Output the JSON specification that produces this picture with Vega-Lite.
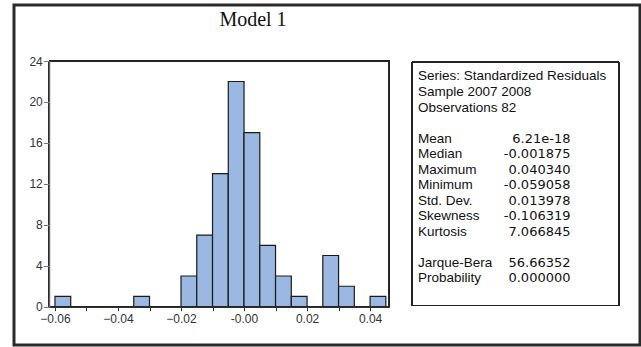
{
  "$schema": "https://vega.github.io/schema/vega-lite/v6.json",
  "autosize": "none",
  "width": 626,
  "height": 340,
  "padding": {"left": 14, "top": 5, "right": 1, "bottom": 2},
  "background": "white",
  "config": {
    "view": {"stroke": "#2a2a2a", "strokeWidth": 3},
    "text": {"font": "Liberation Sans"}
  },
  "title": {
    "text": "Model 1",
    "font": "Liberation Serif",
    "fontSize": 20,
    "fontWeight": "normal",
    "color": "#111",
    "anchor": "middle",
    "frame": "group",
    "offset": -25,
    "dx": -74
  },
  "datasets": {
    "bins": [
      {"bin_start": -0.060, "bin_end": -0.055, "count": 1},
      {"bin_start": -0.035, "bin_end": -0.030, "count": 1},
      {"bin_start": -0.020, "bin_end": -0.015, "count": 3},
      {"bin_start": -0.015, "bin_end": -0.010, "count": 7},
      {"bin_start": -0.010, "bin_end": -0.005, "count": 13},
      {"bin_start": -0.005, "bin_end": 0.000, "count": 22},
      {"bin_start": 0.000, "bin_end": 0.005, "count": 17},
      {"bin_start": 0.005, "bin_end": 0.010, "count": 6},
      {"bin_start": 0.010, "bin_end": 0.015, "count": 3},
      {"bin_start": 0.015, "bin_end": 0.020, "count": 1},
      {"bin_start": 0.025, "bin_end": 0.030, "count": 5},
      {"bin_start": 0.030, "bin_end": 0.035, "count": 2},
      {"bin_start": 0.040, "bin_end": 0.045, "count": 1}
    ],
    "stats": [
      {"line": 0, "label": "Series: Standardized Residuals", "value": ""},
      {"line": 1, "label": "Sample 2007 2008", "value": ""},
      {"line": 2, "label": "Observations 82", "value": ""},
      {"line": 4, "label": "Mean", "value": "6.21e-18"},
      {"line": 5, "label": "Median", "value": "-0.001875"},
      {"line": 6, "label": "Maximum", "value": "0.040340"},
      {"line": 7, "label": "Minimum", "value": "-0.059058"},
      {"line": 8, "label": "Std. Dev.", "value": "0.013978"},
      {"line": 9, "label": "Skewness", "value": "-0.106319"},
      {"line": 10, "label": "Kurtosis", "value": "7.066845"},
      {"line": 12, "label": "Jarque-Bera", "value": "56.66352"},
      {"line": 13, "label": "Probability", "value": "0.000000"}
    ]
  },
  "layer": [
    {
      "data": {"name": "bins"},
      "layer": [
        {
          "mark": {"type": "rect", "fill": "#9bb8e2", "stroke": "#1a1a1a", "strokeWidth": 1.2},
          "encoding": {
            "x": {
              "field": "bin_start",
              "type": "quantitative",
              "scale": {"domain": [-0.0618, 0.0461], "range": [35.3, 375.3], "nice": false, "zero": false},
              "axis": {
                "orient": "bottom",
                "offset": -38.3,
                "zindex": 1,
                "values": [-0.06, -0.055, -0.05, -0.045, -0.04, -0.035, -0.03, -0.025, -0.02, -0.015, -0.01, -0.005, 0, 0.005, 0.01, 0.015, 0.02, 0.025, 0.03, 0.035, 0.04, 0.045],
                "labelExpr": "round(datum.value*1000) % 20 == 0 ? (abs(datum.value) < 1e-9 ? '-0.00' : format(datum.value, '.2f')) : ''",
                "tickSize": 4,
                "labelPadding": 3,
                "domainColor": "#333",
                "tickColor": "#333",
                "labelColor": "#333",
                "labelFont": "Liberation Sans",
                "labelFontSize": 12,
                "labelOverlap": false,
                "labelFlush": false,
                "grid": false,
                "title": null
              }
            },
            "x2": {"field": "bin_end"},
            "y": {
              "field": "count",
              "type": "quantitative",
              "scale": {"domain": [0, 24], "range": [301.7, 56], "nice": false},
              "axis": {
                "orient": "left",
                "offset": -35.3,
                "zindex": 1,
                "values": [0, 4, 8, 12, 16, 20, 24],
                "tickSize": 6,
                "labelPadding": 1,
                "domainColor": "#888",
                "tickColor": "#777",
                "labelColor": "#333",
                "labelFont": "Liberation Sans",
                "labelFontSize": 12,
                "grid": false,
                "title": null
              }
            },
            "y2": {"datum": 0}
          }
        },
        {
          "mark": {"type": "rect", "fill": null, "stroke": "#222", "strokeWidth": 1},
          "encoding": {
            "x": {"datum": -0.0618, "type": "quantitative"},
            "x2": {"datum": 0.0461},
            "y": {"datum": 24, "type": "quantitative"},
            "y2": {"datum": 0}
          }
        }
      ]
    },
    {
      "data": {"name": "stats"},
      "layer": [
        {
          "mark": {"type": "rect", "fill": null, "stroke": "#222", "strokeWidth": 1},
          "encoding": {
            "x": {"datum": 0, "type": "quantitative", "scale": {"domain": [0, 207], "range": [398, 605], "nice": false, "zero": false}, "axis": null},
            "x2": {"datum": 207},
            "y": {"datum": -0.935, "type": "quantitative", "scale": {"domain": [-0.935, 14.77], "range": [57, 300.5], "nice": false, "zero": false}, "axis": null},
            "y2": {"datum": 14.77}
          }
        },
        {
          "mark": {"type": "text", "align": "left", "baseline": "middle", "fontSize": 13.5, "color": "#111"},
          "encoding": {
            "x": {"datum": 6, "type": "quantitative"},
            "y": {"field": "line", "type": "quantitative"},
            "text": {"field": "label"}
          }
        },
        {
          "mark": {"type": "text", "align": "right", "baseline": "middle", "fontSize": 13, "font": "DejaVu Sans", "color": "#111"},
          "encoding": {
            "x": {"datum": 158.5, "type": "quantitative"},
            "y": {"field": "line", "type": "quantitative"},
            "text": {"field": "value"}
          }
        }
      ],
      "resolve": {"scale": {"x": "shared", "y": "shared"}}
    }
  ],
  "resolve": {"scale": {"x": "independent", "y": "independent"}, "axis": {"x": "independent", "y": "independent"}}
}
